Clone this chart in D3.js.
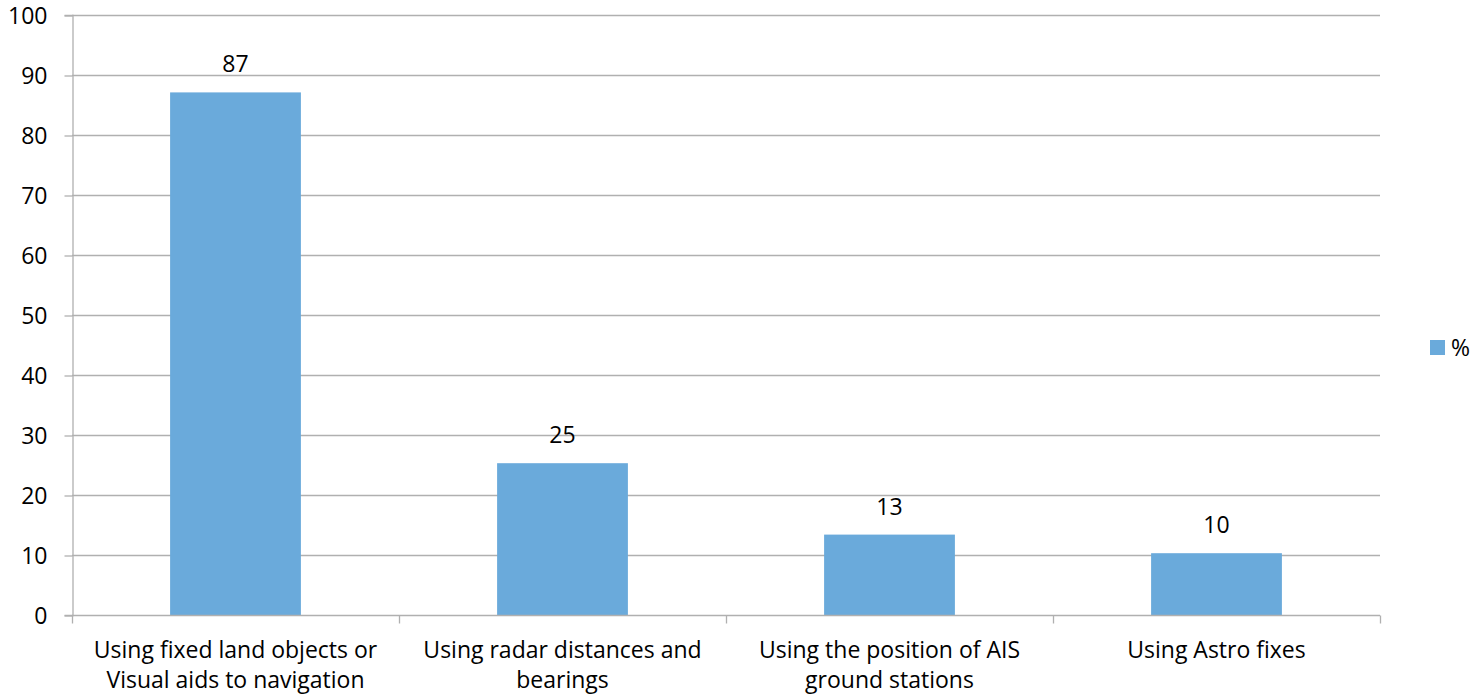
<!DOCTYPE html>
<html><head><meta charset="utf-8">
<script src="https://cdn.jsdelivr.net/npm/d3@7"></script>
<style>body{margin:0;background:#fff}svg{display:block}text{font-family:"Open Sans",sans-serif;fill:#000}</style>
</head><body>
<script>
const categories = [
  ["Using fixed land objects or","Visual aids to navigation"],
  ["Using radar distances and","bearings"],
  ["Using the position of AIS","ground stations"],
  ["Using Astro fixes"]
];
const values = [87.1, 25.3, 13.4, 10.3];
const yTicks = [0,10,20,30,40,50,60,70,80,90,100];
const seriesName = "%";

(function(){
const W = 1473, H = 695;
const pLeft = 72, pRight = 1380, pTop = 15, pBottom = 615;
const FS = 23, FF = "Open Sans";
const svg = d3.select("body").append("svg").attr("width", W).attr("height", H);
const x = d3.scaleBand().domain(d3.range(categories.length)).range([pLeft, pRight]).paddingInner(0.6).paddingOuter(0.3);
const xb = d3.scaleBand().domain(d3.range(categories.length)).range([pLeft, pRight]);
const y = d3.scaleLinear().domain([0,100]).range([pBottom, pTop]);
const grey = "#b0b0b0";

svg.append("g").selectAll("line").data(yTicks.filter(d=>d>0)).join("line")
  .attr("x1", pLeft).attr("x2", pRight).attr("y1", d=>y(d)+0.5).attr("y2", d=>y(d)+0.5)
  .attr("stroke", grey).attr("stroke-width", 1.3);

const ya = svg.append("g").attr("transform", `translate(${pLeft+0.5},0)`)
  .call(d3.axisLeft(y).tickValues(yTicks).tickSize(8).tickPadding(17));
ya.select(".domain").attr("stroke", grey).attr("stroke-width",1.3);
ya.selectAll(".tick line").attr("stroke", grey).attr("stroke-width",1.3).attr("transform","translate(0,0.5)");
ya.selectAll(".tick text").attr("font-size", FS).attr("font-family",FF).attr("fill","#000").attr("dy","0.36em");

svg.append("g").selectAll("rect").data(values).join("rect")
  .attr("x", (d,i)=>x(i)).attr("width", x.bandwidth())
  .attr("y", d=>y(d)).attr("height", d=>pBottom - y(d))
  .attr("fill", "#6aaadb");

const xa = svg.append("g").attr("transform", `translate(0,${pBottom+0.5})`);
xa.append("line").attr("x1", pLeft).attr("x2", pRight).attr("stroke", grey).attr("stroke-width",1.3);
xa.selectAll("line.t").data(d3.range(categories.length+1)).join("line").attr("class","t")
  .attr("x1", i=> i<categories.length ? xb(i)+0.5 : pRight+0.5).attr("x2", i=> i<categories.length ? xb(i)+0.5 : pRight+0.5)
  .attr("y1", 0).attr("y2", 8).attr("stroke", grey).attr("stroke-width",1.3);

const cl = svg.append("g").selectAll("text").data(categories).join("text")
  .attr("text-anchor","middle").attr("font-size", FS)
  .attr("x", (d,i)=>xb(i)+xb.bandwidth()/2).attr("y", 658);
cl.selectAll("tspan").data(d=>d).join("tspan")
  .attr("x", function(){return this.parentNode.getAttribute("x");})
  .attr("dy", (d,i)=> i===0 ? 0 : 30).text(d=>d);

svg.append("g").selectAll("text").data(values).join("text")
  .attr("text-anchor","middle").attr("font-size", FS)
  .attr("x", (d,i)=>x(i)+x.bandwidth()/2).attr("y", d=>y(d)-20)
  .text(d=>d3.format(".0f")(d));

const lg = svg.append("g");
lg.append("rect").attr("x",1430).attr("y",340).attr("width",15).attr("height",15).attr("fill","#6aaadb");
lg.append("text").attr("x",1451).attr("y",356).attr("font-size",FS).text(seriesName);
})();
</script>
</body></html>
